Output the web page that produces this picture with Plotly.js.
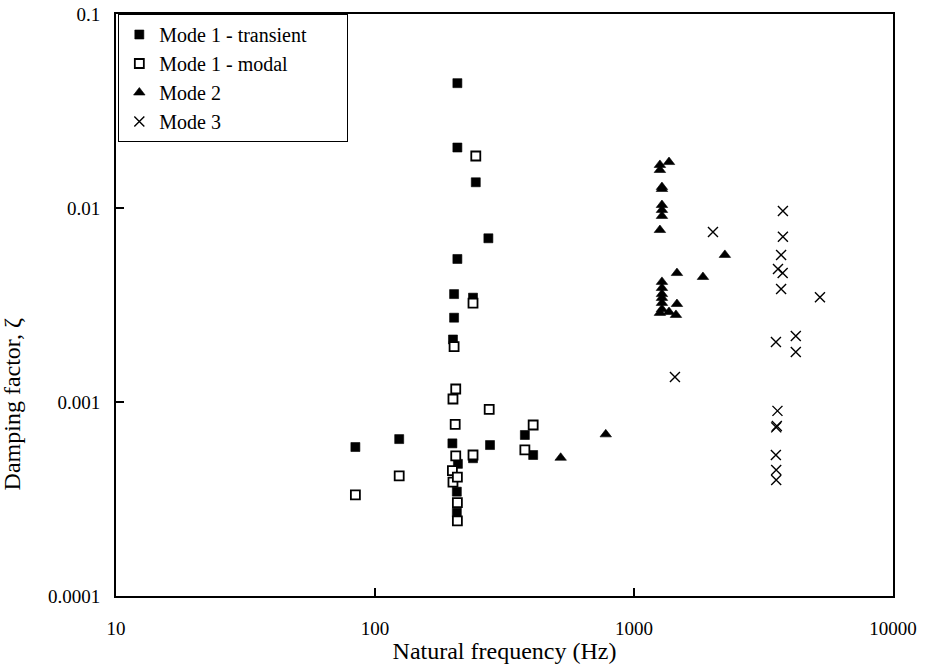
<!DOCTYPE html>
<html>
<head>
<meta charset="utf-8">
<script src="https://cdn.plot.ly/plotly-3.0.1.min.js"></script>
<style>html,body{margin:0;padding:0;background:#fff;}#chart{width:928px;height:664px;}</style>
</head>
<body>
<div id="chart"></div>
<script>
// Mode 1 - transient (filled squares)
const m1tFreq = [84, 124, 208, 208, 245, 274, 208, 202, 239, 202, 200, 199, 278, 379, 408, 239, 207, 207, 209];
const m1tDamp = [0.000586, 0.000644, 0.0440, 0.0205, 0.01357, 0.00698, 0.00546, 0.00360, 0.00345, 0.00272, 0.00210, 0.000612, 0.000600, 0.000676, 0.000533, 0.000513, 0.000345, 0.000269, 0.00048];
// Mode 1 - modal (open squares)
const m1mFreq = [84, 124, 245, 239, 202, 205, 200, 276, 204, 408, 379, 205, 239, 199, 200, 208, 208, 208];
const m1mDamp = [0.000332, 0.000416, 0.01854, 0.00323, 0.00193, 0.001167, 0.001036, 0.000917, 0.000767, 0.000761, 0.000566, 0.000527, 0.000533, 0.000443, 0.000386, 0.000303, 0.000244, 0.00041];
// Mode 2 (filled triangles)
const m2Freq = [521, 778, 1259, 1259, 1365, 1282, 1282, 1282, 1282, 1282, 1259, 1282, 1282, 1282, 1282, 1282, 1282, 1259, 1365, 1452, 1465, 1465, 1846, 2243];
const m2Damp = [0.000516, 0.000681, 0.0157, 0.01667, 0.01725, 0.01282, 0.01253, 0.01036, 0.00977, 0.00910, 0.00770, 0.00416, 0.00387, 0.00360, 0.00344, 0.00324, 0.00301, 0.00288, 0.00291, 0.00281, 0.00320, 0.00462, 0.00441, 0.00573];
// Mode 3 (crosses)
const m3Freq = [2018, 1439, 3758, 3758, 3698, 3597, 3750, 3698, 5224, 4214, 4214, 3532, 3580, 3560, 3540, 3530, 3540, 3540];
const m3Damp = [0.00752, 0.001346, 0.00966, 0.00710, 0.00573, 0.00485, 0.00462, 0.00382, 0.00347, 0.00219, 0.00181, 0.00204, 0.000900, 0.000752, 0.000740, 0.000533, 0.000446, 0.000396];

const seriesNames = ['Mode 1 - transient', 'Mode 1 - modal', 'Mode 2', 'Mode 3'];
const xTickVals = [10, 100, 1000, 10000];
const xTickText = ['10', '100', '1000', '10000'];
const yTickVals = [0.0001, 0.001, 0.01, 0.1];
const yTickText = ['0.0001', '0.001', '0.01', '0.1'];
const xTitle = 'Natural frequency (Hz)';
const yTitle = 'Damping factor, ζ';

const serif = 'Liberation Serif, Times New Roman, serif';
const pad = '\u00a0'.repeat(7);

const traces = [
  {x: m1tFreq, y: m1tDamp, name: seriesNames[0] + pad, mode: 'markers', type: 'scatter',
   marker: {symbol: 'square', size: 9, color: '#000', line: {width: 0.6, color: '#000'}}},
  {x: m1mFreq, y: m1mDamp, name: seriesNames[1], mode: 'markers', type: 'scatter',
   marker: {symbol: 'square', size: 9, color: '#fff', line: {width: 1.8, color: '#000'}}},
  {x: m2Freq, y: m2Damp, name: seriesNames[2], mode: 'markers', type: 'scatter',
   marker: {symbol: 'triangle-up', size: 10, color: '#000', line: {width: 0.6, color: '#000'}}},
  {x: m3Freq, y: m3Damp, name: seriesNames[3], mode: 'markers', type: 'scatter',
   marker: {symbol: 'x-thin-open', size: 10, color: '#000', line: {width: 1.4, color: '#000'}}}
];

const layout = {
  width: 928, height: 664,
  margin: {l: 116, r: 35, t: 14, b: 68},
  paper_bgcolor: '#fff', plot_bgcolor: '#fff',
  font: {family: serif, size: 19, color: '#000'},
  showlegend: true,
  legend: {x: 0.003, y: 1, xanchor: 'left', yanchor: 'top', bgcolor: '#fff', bordercolor: '#000', borderwidth: 1,
           font: {family: serif, size: 20, color: '#000'}, itemwidth: 30, tracegroupgap: 0},
  xaxis: {type: 'log', range: [1, 4], tickvals: xTickVals, ticktext: xTickText, ticks: 'inside', ticklen: 8, tickwidth: 2,
          tickcolor: '#000', showline: true, linecolor: '#000', linewidth: 2, mirror: true, showgrid: false, zeroline: false,
          ticklabelstandoff: 14, tickfont: {family: serif, size: 19, color: '#000'},
          title: {text: xTitle, font: {family: serif, size: 24, color: '#000'}, standoff: 4}},
  yaxis: {type: 'log', range: [-4, -1], tickvals: yTickVals, ticktext: yTickText, ticks: 'inside', ticklen: 8, tickwidth: 2,
          tickcolor: '#000', showline: true, linecolor: '#000', linewidth: 2, mirror: true, showgrid: false, zeroline: false,
          ticklabelstandoff: 10, tickfont: {family: serif, size: 19, color: '#000'}},
  annotations: [{text: yTitle, xref: 'paper', yref: 'paper', x: -0.1345, y: 0.33, xanchor: 'center', yanchor: 'middle',
                 textangle: -90, showarrow: false, font: {family: serif, size: 24, color: '#000'}}]
};

Plotly.newPlot('chart', traces, layout, {displayModeBar: false, staticPlot: true});
</script>
</body>
</html>
